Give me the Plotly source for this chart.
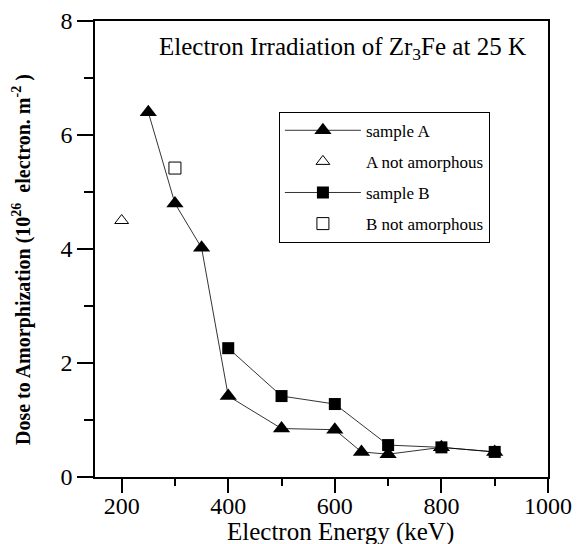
import plotly.graph_objects as go

# Electron energy (keV) and dose to amorphization (1e26 electron m^-2)
energy_a = [250, 300, 350, 400, 500, 600, 650, 700, 800, 900]
dose_a = [6.40, 4.80, 4.02, 1.42, 0.85, 0.83, 0.44, 0.40, 0.52, 0.44]

energy_a_open = [200]
dose_a_open = [4.50]

energy_b = [400, 500, 600, 700, 800, 900]
dose_b = [2.26, 1.42, 1.28, 0.56, 0.52, 0.44]

energy_b_open = [300]
dose_b_open = [5.42]

x_ticks = [200, 400, 600, 800, 1000]
y_ticks = [0, 2, 4, 6, 8]

SERIF = "Liberation Serif, Times New Roman, serif"

fig = go.Figure()
fig.add_trace(go.Scatter(
    x=energy_a, y=dose_a, mode="lines+markers", name="sample A",
    legendgroup="a",
    line=dict(color="black", width=0.8),
    marker=dict(symbol="triangle-up", size=15, color="black"),
))
fig.add_trace(go.Scatter(
    x=energy_a_open, y=dose_a_open, mode="markers", name="A not amorphous",
    legendgroup="a2",
    marker=dict(symbol="triangle-up-open", size=12, color="black", line=dict(width=1)),
))
fig.add_trace(go.Scatter(
    x=energy_b, y=dose_b, mode="lines+markers", name="sample B",
    legendgroup="b",
    line=dict(color="black", width=0.8),
    marker=dict(symbol="square", size=12, color="black"),
))
fig.add_trace(go.Scatter(
    x=energy_b_open, y=dose_b_open, mode="markers", name="B not amorphous",
    legendgroup="b2",
    marker=dict(symbol="square-open", size=12, color="black", line=dict(width=1)),
))

# chart heading inside the frame
fig.add_annotation(
    text="Electron Irradiation of Zr<sub>3</sub>Fe at 25 K",
    xref="paper", yref="paper", x=0.955, y=0.94, xanchor="right", yanchor="middle",
    showarrow=False, font=dict(family=SERIF, size=25, color="black"),
)
# axis titles
fig.add_annotation(
    text="Electron Energy (keV)",
    xref="paper", yref="paper", x=0.541, y=-0.121, xanchor="center", yanchor="middle",
    showarrow=False, font=dict(family=SERIF, size=25, color="black"),
)
fig.add_annotation(
    text="<b>Dose to Amorphization (10<sup>26</sup>  electron. m<sup>-2</sup> )</b>",
    xref="paper", yref="paper", x=-0.161, y=0.476, xanchor="center", yanchor="middle",
    textangle=-90, showarrow=False, font=dict(family=SERIF, size=20, color="black"),
)

fig.update_layout(
    width=581, height=544,
    margin=dict(l=95, r=33, t=21, b=67),
    paper_bgcolor="white", plot_bgcolor="white",
    font=dict(family=SERIF, color="black"),
    showlegend=True,
    legend=dict(
        x=0.406, y=0.801, xanchor="left", yanchor="top",
        bordercolor="black", borderwidth=1, bgcolor="white",
        font=dict(family=SERIF, size=17, color="black"),
        tracegroupgap=6, traceorder="grouped", itemwidth=76,
    ),
    xaxis=dict(
        range=[150, 1000], tickvals=x_ticks, ticks="outside", ticklen=14,
        tickwidth=1.5, tickcolor="black", automargin=False,
        ticklabelstandoff=-8,
        minor=dict(dtick=100, tick0=0, ticks="outside", ticklen=7, tickwidth=1.5, tickcolor="black"),
        showline=True, linecolor="black", linewidth=1.5, mirror=True,
        showgrid=False, zeroline=False,
        tickfont=dict(family=SERIF, size=24, color="black"),
    ),
    yaxis=dict(
        range=[0, 8], tickvals=y_ticks, ticks="outside", ticklen=16,
        tickwidth=1.5, tickcolor="black", automargin=False,
        minor=dict(dtick=1, tick0=0, ticks="outside", ticklen=9, tickwidth=1.5, tickcolor="black"),
        showline=True, linecolor="black", linewidth=1.5, mirror=True,
        showgrid=False, zeroline=False,
        tickfont=dict(family=SERIF, size=24, color="black"),
    ),
)

fig.write_html("out.html")
